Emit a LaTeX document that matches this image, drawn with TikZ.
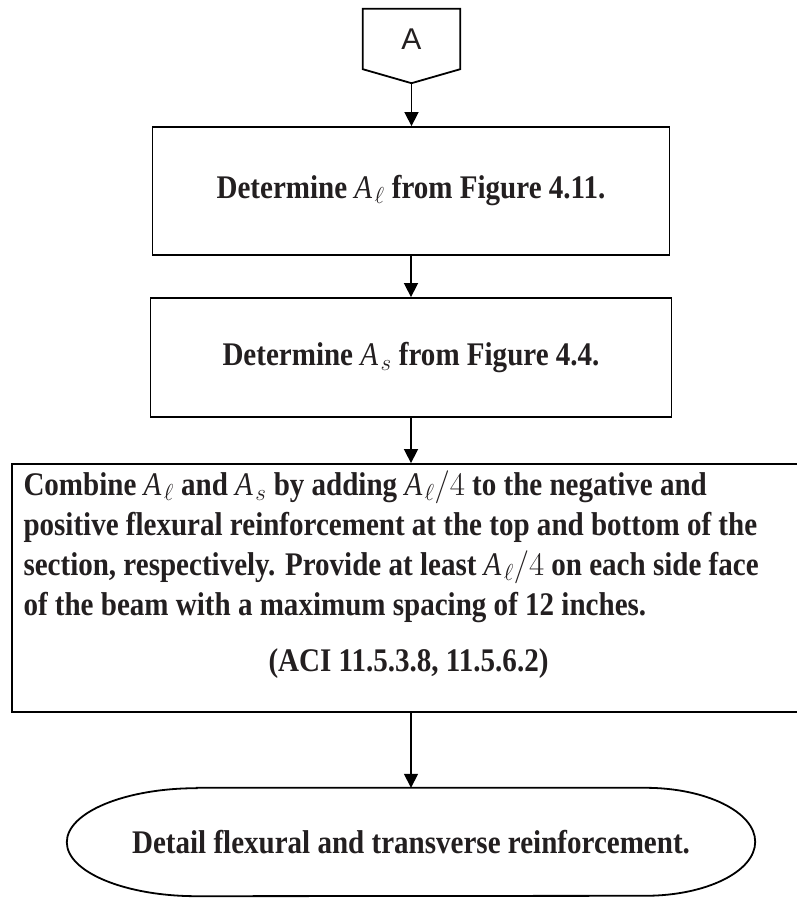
\RequirePackage{fix-cm}
\documentclass[tikz,border=0pt]{standalone}
\usepackage{fontspec}
\setmainfont{Liberation Serif}[FakeStretch=0.88]
\newfontfamily\labelfont{Liberation Sans}
\usetikzlibrary{arrows.meta,positioning}
\definecolor{inkgray}{RGB}{35,31,32}
\newcommand{\Aell}{$\mathit{A}_\ell$}
\newcommand{\Aes}{$\mathit{A}_s$}

\begin{document}
\begin{tikzpicture}[x=1pt, y=1pt,
    line/.style={draw=black, line width=1.8pt},
    box/.style={inner sep=0pt, font=\fontsize{33}{40}\selectfont\bfseries, text=inkgray},
    procbox/.style={box, line, align=center},
    notebox/.style={box, line, align=flush left, text width=770},
    termin/.style={box, minimum width=688, minimum height=108},
    arrow/.style={-{Triangle[length=14pt,width=14pt]}, line width=1.6pt}
  ]
    \useasboundingbox (0,0) rectangle (797,898);
    % off-page connector
    \node[minimum width=97, minimum height=60, inner sep=0pt, text=inkgray,
          font=\labelfont\fontsize{30}{30}\selectfont] (offA) at (411.5,859) {A};
    \coordinate (offA tip) at ([yshift=-14]offA.south);
    \draw[line] (offA.north west) -- (offA.north east) -- (offA.south east)
      -- (offA tip) -- (offA.south west) -- cycle;
    % process boxes
    \node[procbox, minimum width=517, minimum height=128] (detL) at (411,707)
      {Determine \Aell{} from Figure 4.11.};
    \node[procbox, minimum width=521, minimum height=119] (detS) at (411,540.5)
      {Determine \Aes{} from Figure 4.4.};
    \node[notebox, minimum width=793, minimum height=248] (comb) at (408.5,310)
      {Combine \Aell{} and \Aes{} by adding $\mathit{A}_\ell/4$ to the negative and\\
       positive flexural reinforcement at the top and bottom of the\\
       section, respectively. Provide at least $\mathit{A}_\ell/4$ on each side face\\
       of the beam with a maximum spacing of 12 inches.\par\vspace{16pt}
       {\centering (ACI 11.5.3.8, 11.5.6.2)\par}\vspace{26pt}};
    % terminal
    \node[termin] (term) at (411,56) {Detail flexural and transverse reinforcement.};
    \draw[line] ([xshift=130]term.north west) -- ([xshift=-110]term.north east)
      arc[start angle=90, end angle=-90, x radius=110, y radius=54]
      -- ([xshift=130]term.south west)
      arc[start angle=270, end angle=90, x radius=130, y radius=54] -- cycle;
    % connectors
    \draw[arrow] (offA tip) -- (offA tip |- detL.north);
    \draw[arrow] (detL) -- (detS);
    \draw[arrow] (detS.south) -- (detS.south |- comb.north);
    \draw[arrow] (comb.south -| term.north) -- (term.north);
  \end{tikzpicture}
\end{document}
